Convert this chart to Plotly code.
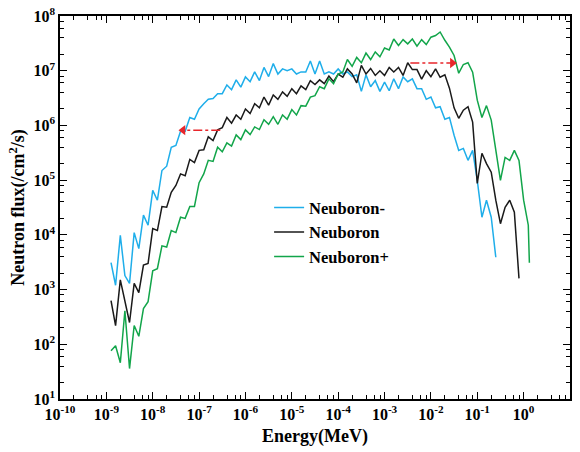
import plotly.graph_objects as go

# Energy bin edges (MeV), shared by all three spectra
energy = [
    1.26e-9, 1.58e-9, 2.0e-9, 2.51e-9, 3.16e-9, 3.98e-9, 5.01e-9, 6.31e-9, 7.94e-9,
    1.0e-8, 1.26e-8, 1.58e-8, 2.0e-8, 2.51e-8, 3.16e-8, 3.98e-8, 5.01e-8, 6.31e-8, 7.94e-8,
    1.0e-7, 1.26e-7, 1.58e-7, 2.0e-7, 2.51e-7, 3.16e-7, 3.98e-7, 5.01e-7, 6.31e-7, 7.94e-7,
    1.0e-6, 1.26e-6, 1.58e-6, 2.0e-6, 2.51e-6, 3.16e-6, 3.98e-6, 5.01e-6, 6.31e-6, 7.94e-6,
    1.0e-5, 1.26e-5, 1.58e-5, 2.0e-5, 2.51e-5, 3.16e-5, 3.98e-5, 5.01e-5, 6.31e-5, 7.94e-5,
    1.0e-4, 1.26e-4, 1.58e-4, 2.0e-4, 2.51e-4, 3.16e-4, 3.98e-4, 5.01e-4, 6.31e-4, 7.94e-4,
    1.0e-3, 1.26e-3, 1.58e-3, 2.0e-3, 2.51e-3, 3.16e-3, 3.98e-3, 5.01e-3, 6.31e-3, 7.94e-3,
    1.0e-2, 1.26e-2, 1.58e-2, 2.0e-2, 2.51e-2, 3.16e-2, 3.98e-2, 5.01e-2, 6.31e-2, 7.94e-2,
    1.0e-1, 1.26e-1, 1.58e-1, 2.0e-1, 2.51e-1, 3.16e-1, 3.98e-1, 5.01e-1, 6.31e-1, 7.94e-1,
    1.0, 1.26, 1.33,
]

flux_minus = [
    3.1e3, 1.2e3, 9.8e3, 1.8e3, 1.3e3, 1.1e4, 5.6e3, 2.3e4, 1.5e4,
    6.5e4, 4.3e4, 1.5e5, 1.8e5, 4.0e5, 4.3e5, 7.8e5, 7.8e5, 1.4e6, 1.3e6,
    2.0e6, 2.5e6, 3.0e6, 3.1e6, 3.8e6, 3.8e6, 5.5e6, 4.5e6, 6.8e6, 5.0e6,
    7.7e6, 6.3e6, 9.5e6, 6.6e6, 1.15e7, 7.8e6, 1.35e7, 8.7e6, 1.08e7, 1.0e7,
    1.08e7, 8.7e6, 9.5e6, 9.5e6, 1.5e7, 8.7e6, 1.5e7, 8.7e6, 9.5e6, 8.7e6,
    1.08e7, 8.7e6, 9.5e6, 7.8e6, 8.4e6, 4.2e6, 8.4e6, 5.1e6, 6.6e6, 4.2e6,
    6.2e6, 4.3e6, 7.1e6, 4.7e6, 7.7e6, 6.3e6, 7.1e6, 4.7e6, 4.7e6, 3.0e6,
    3.3e6, 2.1e6, 2.2e6, 1.3e6, 1.4e6, 6.6e5, 3.5e5, 3.8e5, 2.3e5, 3.5e5,
    9.9e4, 2.1e4, 4.3e4, 2.1e4, 3.9e3,
]

flux_nominal = [
    6.3e2, 2.2e2, 1.5e3, 6.3e2, 2.5e2, 1.3e3, 8.8e2, 2.8e3, 3.0e3,
    1.3e4, 1.2e4, 3.3e4, 3.2e4, 6.0e4, 8.0e4, 1.3e5, 1.2e5, 2.4e5, 2.1e5,
    3.5e5, 3.6e5, 6.2e5, 5.3e5, 8.3e5, 9.1e5, 1.4e6, 1.1e6, 1.55e6, 1.3e6,
    2.0e6, 1.65e6, 2.5e6, 2.1e6, 3.3e6, 2.35e6, 3.6e6, 3.0e6, 4.1e6, 3.4e6,
    4.7e6, 3.8e6, 5.3e6, 4.5e6, 6.6e6, 5.6e6, 6.8e6, 5.8e6, 8.0e6, 6.3e6,
    8.7e6, 7.6e6, 1.08e7, 8.7e6, 6.0e6, 1.25e7, 8.7e6, 1.1e7, 8.2e6, 1.0e7,
    8.2e6, 1.15e7, 9.5e6, 1.15e7, 8.2e6, 1.4e7, 1.05e7, 1.05e7, 7.0e6, 1.0e7,
    7.8e6, 1.08e7, 7.6e6, 8.4e6, 4.8e6, 2.1e6, 1.35e6, 1.9e6, 2.2e6, 1.15e6,
    8.7e4, 3.1e5, 2.0e5, 1.4e5, 4.3e4, 1.6e4, 3.2e4, 4.3e4, 2.6e4, 1.6e3,
]

flux_plus = [
    76, 94, 46, 4.1e2, 36, 2.2e2, 1.4e2, 4.5e2, 6.0e2,
    2.2e3, 2.4e3, 6.3e3, 6.0e3, 1.2e4, 1.1e4, 2.1e4, 2.0e4, 3.3e4, 3.3e4,
    9.0e4, 1.3e5, 2.3e5, 2.2e5, 4.0e5, 3.3e5, 4.8e5, 4.2e5, 6.7e5, 5.5e5,
    8.3e5, 6.8e5, 9.4e5, 8.4e5, 1.27e6, 1.05e6, 1.45e6, 1.05e6, 1.55e6, 1.3e6,
    1.95e6, 1.55e6, 2.3e6, 2.25e6, 3.3e6, 3.5e6, 5.1e6, 4.7e6, 7.1e6, 5.8e6,
    8.7e6, 9.5e6, 1.6e7, 1.2e7, 1.75e7, 1.4e7, 2.1e7, 1.6e7, 2.2e7, 1.8e7,
    2.6e7, 2.4e7, 3.8e7, 2.9e7, 3.7e7, 3.1e7, 3.8e7, 2.8e7, 3.7e7, 3.0e7,
    4.1e7, 4.4e7, 5.1e7, 3.6e7, 2.7e7, 1.9e7, 9.0e6, 1.3e7, 1.4e7, 9.4e6,
    2.9e6, 1.4e6, 2.3e6, 1.25e6, 3.5e5, 9.9e4, 2.6e5, 2.3e5, 3.5e5, 2.3e5,
    4.3e4, 1.5e4, 3.1e3,
]

series_names = ["Neuboron-", "Neuboron", "Neuboron+"]
series_colors = ["#1FAEEA", "#1A1A1A", "#12A54A"]

# red dash-dot arrows (start energy, end energy, flux level)
arrow1_energy = [2.86e-7, 4.5e-8]
arrow1_flux = [8.2e5, 8.2e5]
arrow2_energy = [3.6e-3, 2.9e-2]
arrow2_flux = [1.38e7, 1.38e7]

xtick_vals = [1e-10, 1e-9, 1e-8, 1e-7, 1e-6, 1e-5, 1e-4, 1e-3, 1e-2, 1e-1, 1e0, 1e1]
xtick_text = ["10<sup>-10</sup>", "10<sup>-9</sup>", "10<sup>-8</sup>", "10<sup>-7</sup>",
              "10<sup>-6</sup>", "10<sup>-5</sup>", "10<sup>-4</sup>", "10<sup>-3</sup>",
              "10<sup>-2</sup>", "10<sup>-1</sup>", "10<sup>0</sup>", "10<sup>1</sup>"]
ytick_vals = [1e1, 1e2, 1e3, 1e4, 1e5, 1e6, 1e7, 1e8]
ytick_text = ["10<sup>1</sup>", "10<sup>2</sup>", "10<sup>3</sup>", "10<sup>4</sup>",
              "10<sup>5</sup>", "10<sup>6</sup>", "10<sup>7</sup>", "10<sup>8</sup>"]

fig = go.Figure()
all_flux = [flux_minus, flux_nominal, flux_plus]
for name, color, fl in zip(series_names, series_colors, all_flux):
    fig.add_trace(go.Scatter(
        x=energy[:len(fl)], y=fl, name=name, mode="lines",
        line=dict(color=color, width=1.5),
    ))

red = "#E8262B"
for ex, fy in [(arrow1_energy, arrow1_flux), (arrow2_energy, arrow2_flux)]:
    fig.add_trace(go.Scatter(
        x=ex, y=fy, mode="lines", showlegend=False,
        line=dict(color=red, width=1.5, dash="dashdot"),
    ))
    fig.add_trace(go.Scatter(
        x=[ex[1]], y=[fy[1]], mode="markers", showlegend=False,
        marker=dict(symbol="triangle-left" if ex[1] < ex[0] else "triangle-right",
                    size=9, color=red, line=dict(width=0)),
    ))

font_family = "Liberation Serif"
minor_x = [m * 10.0 ** k for k in range(-10, 1) for m in (2, 4, 6, 8)]
minor_y = [m * 10.0 ** k for k in range(1, 8) for m in (2, 4, 6, 8)]

axis_common = dict(
    type="log", showline=True, linecolor="black", linewidth=1.5, mirror="ticks",
    ticks="inside", ticklen=7, tickwidth=1.3, tickcolor="black",
    showgrid=False, zeroline=False, automargin=False,
    tickfont=dict(family=font_family, size=16, color="black", weight="bold"),
)

fig.update_xaxes(
    range=[-10, 1], tickmode="array", tickvals=xtick_vals, ticktext=xtick_text,
    minor=dict(ticks="inside", ticklen=4, tickwidth=1.2, tickcolor="black",
               tickmode="array", tickvals=minor_x),
    title=dict(text="Energy(MeV)", font=dict(family=font_family, size=18, color="black", weight="bold"),
               standoff=7),
    **axis_common,
)
fig.update_yaxes(
    range=[1, 8], tickmode="array", tickvals=ytick_vals, ticktext=ytick_text,
    minor=dict(ticks="inside", ticklen=4, tickwidth=1.2, tickcolor="black",
               tickmode="array", tickvals=minor_y),
    title=dict(text="Neutron flux(/cm<sup>2</sup>/s)",
               font=dict(family=font_family, size=18, color="black", weight="bold"),
               standoff=4),
    **axis_common,
)

fig.update_layout(
    width=580, height=452,
    margin=dict(l=60, r=10, t=16, b=53),
    paper_bgcolor="white", plot_bgcolor="white",
    legend=dict(x=0.41, y=0.545, xanchor="left", yanchor="top",
                bgcolor="rgba(0,0,0,0)",
                font=dict(family=font_family, size=16.5, color="black", weight="bold"),
                tracegroupgap=0, itemwidth=30),
)

fig.write_html("out.html")
